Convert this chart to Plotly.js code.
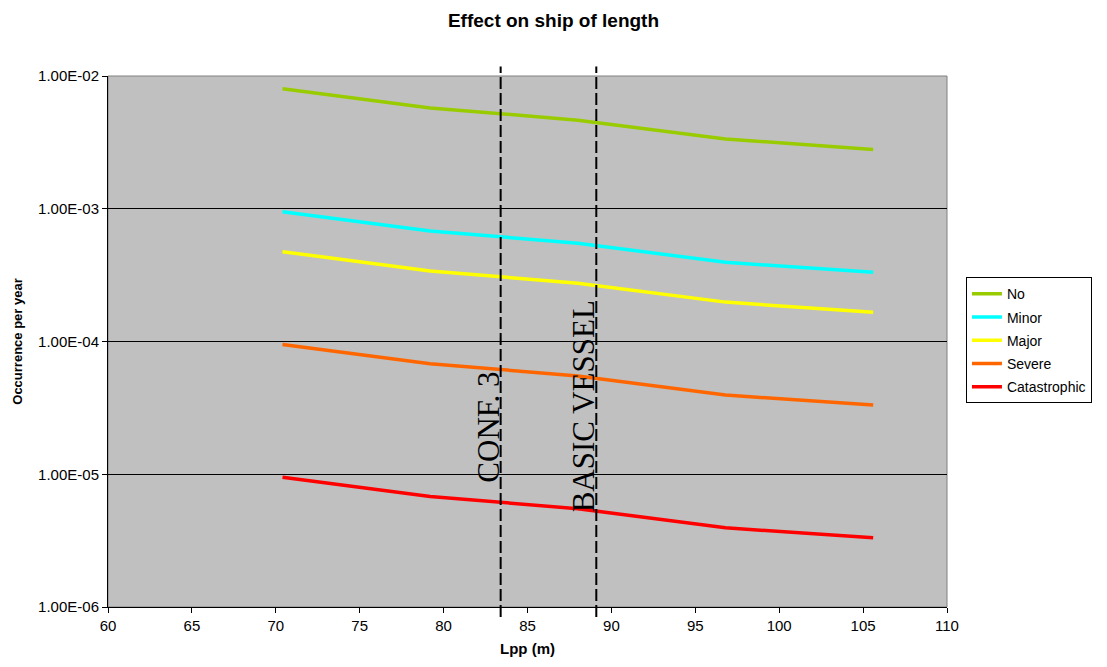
<!DOCTYPE html>
<html>
<head>
<meta charset="utf-8">
<script src="https://cdn.plot.ly/plotly-3.0.1.min.js"></script>
<style>html,body{margin:0;padding:0;background:#fff;}#chart{width:1107px;height:667px;}</style>
</head>
<body>
<div id="chart"></div>
<script>
// Ship length (Lpp, m)
var lpp = [70.4, 79.2, 88.0, 96.8, 105.6];

// Occurrence per year for each consequence category
var seriesNames = ["No", "Minor", "Major", "Severe", "Catastrophic"];
var noVals = [8.0e-3, 5.75e-3, 4.65e-3, 3.35e-3, 2.8e-3];
var minorVals = [9.5e-4, 6.8e-4, 5.5e-4, 3.95e-4, 3.32e-4];
var majorVals = [4.75e-4, 3.4e-4, 2.75e-4, 1.98e-4, 1.66e-4];
var severeVals = [9.5e-5, 6.8e-5, 5.5e-5, 3.95e-5, 3.32e-5];
var catastrophicVals = [9.5e-6, 6.8e-6, 5.5e-6, 3.95e-6, 3.32e-6];

// Reference vessels (vertical markers)
var refNames = ["CONF. 3", "BASIC VESSEL"];
var refLpp = [83.4, 89.1];

// Y-axis ticks
var yTickVals = [1e-6, 1e-5, 1e-4, 1e-3, 1e-2];
var yTickText = ["1.00E-06", "1.00E-05", "1.00E-04", "1.00E-03", "1.00E-02"];

var colors = ["#99cc00", "#00ffff", "#ffff00", "#ff6600", "#ff0000"];
var allVals = [noVals, minorVals, majorVals, severeVals, catastrophicVals];

var traces = seriesNames.map(function (n, i) {
  return {
    x: lpp, y: allVals[i], name: n, type: "scatter", mode: "lines",
    legendgroup: "g" + i,
    line: {color: colors[i], width: 3.5}
  };
});

var shapes = [{
  type: "rect", xref: "paper", yref: "paper", x0: 0, x1: 1, y0: 0, y1: 1,
  line: {color: "#808080", width: 1}, layer: "below"
}];
var annotations = [];
var refTextY = [-4.648, -4.49];
refLpp.forEach(function (xv, i) {
  shapes.push({
    type: "line", xref: "x", yref: "paper", x0: xv, x1: xv, y0: -0.019, y1: 1.018,
    line: {color: "#000", width: 2, dash: "12px,4px"}, layer: "above"
  });
  annotations.push({
    x: xv, y: refTextY[i], xref: "x", yref: "y",
    text: refNames[i], showarrow: false, textangle: -90,
    xanchor: "right", yanchor: "middle", xshift: 7,
    font: {family: "Liberation Serif, Times New Roman, serif", size: 31, color: "#000"}
  });
});

var layout = {
  width: 1107, height: 667,
  margin: {l: 108, r: 160, t: 76, b: 60},
  paper_bgcolor: "#ffffff",
  plot_bgcolor: "#c0c0c0",
  font: {family: "Liberation Sans, Arial, sans-serif", size: 14, color: "#000"},
  title: {text: "<b>Effect on ship of length</b>", x: 0.5, xref: "container", xanchor: "center", y: 0.97, yanchor: "middle",
    font: {family: "Liberation Sans, Arial, sans-serif", size: 19, color: "#000"}},
  xaxis: {
    range: [60, 110], dtick: 5, tick0: 60, showgrid: false, zeroline: false,
    ticks: "outside", ticklen: 5, tickcolor: "#000", showline: true, linecolor: "#000", linewidth: 1,
    tickfont: {size: 15},
    title: {text: "<b>Lpp (m)</b>", font: {size: 15}, standoff: 10}
  },
  yaxis: {
    type: "log", range: [-6, -2], tickvals: yTickVals, ticktext: yTickText,
    showgrid: true, gridcolor: "#000", gridwidth: 1, zeroline: false,
    ticks: "outside", ticklen: 5, tickcolor: "#000", showline: true, linecolor: "#000", linewidth: 1,
    tickfont: {size: 15},
    title: {text: "<b>Occurrence per year</b>", font: {size: 13}, standoff: 12}
  },
  showlegend: true,
  legend: {
    x: 1.0226, y: 0.621, xanchor: "left", yanchor: "top",
    bgcolor: "#ffffff", bordercolor: "#000", borderwidth: 1,
    font: {size: 14}, traceorder: "grouped", tracegroupgap: 2
  },
  shapes: shapes,
  annotations: annotations
};

Plotly.newPlot("chart", traces, layout, {displayModeBar: false, staticPlot: true});
</script>
</body>
</html>
